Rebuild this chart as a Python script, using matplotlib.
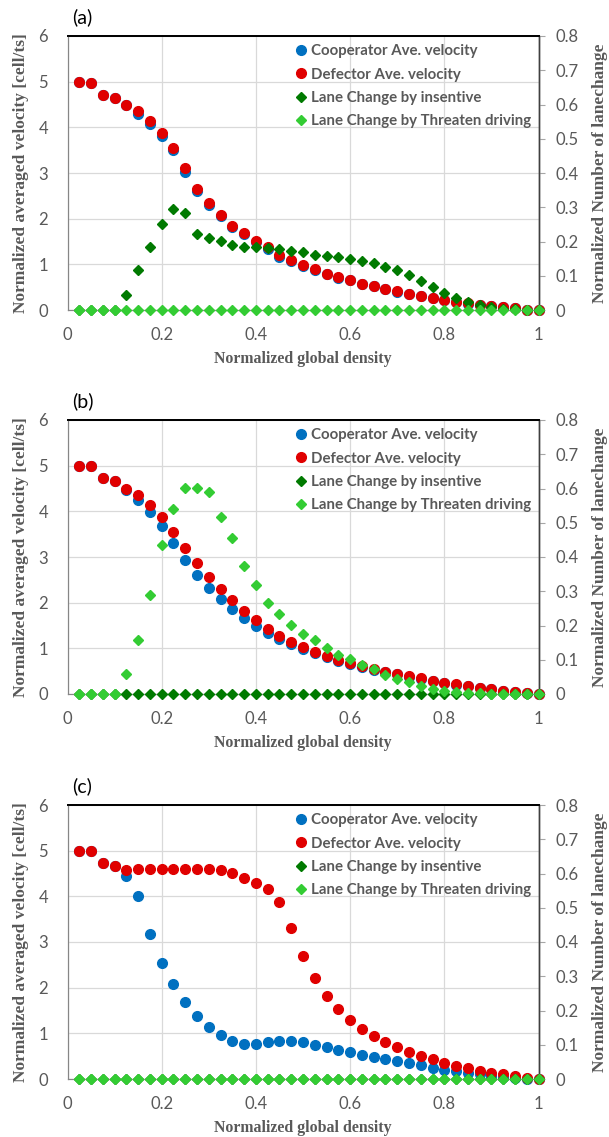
import matplotlib
matplotlib.use('Agg')
import matplotlib.pyplot as plt
from matplotlib.ticker import FixedLocator, FuncFormatter

# normalized global density (x values shared by all panels)
density = [0.025, 0.05, 0.075, 0.1, 0.125, 0.15, 0.175, 0.2, 0.225, 0.25,
           0.275, 0.3, 0.325, 0.35, 0.375, 0.4, 0.425, 0.45, 0.475, 0.5,
           0.525, 0.55, 0.575, 0.6, 0.625, 0.65, 0.675, 0.7, 0.725, 0.75,
           0.775, 0.8, 0.825, 0.85, 0.875, 0.9, 0.925, 0.95, 0.975, 1.0]

# panel (a)
coop_a = [5.00, 4.98, 4.70, 4.64, 4.48, 4.30, 4.08, 3.81, 3.50, 3.02,
          2.60, 2.30, 2.05, 1.82, 1.66, 1.50, 1.34, 1.17, 1.08, 0.97,
          0.88, 0.78, 0.71, 0.65, 0.57, 0.52, 0.46, 0.40, 0.35, 0.31,
          0.26, 0.21, 0.17, 0.14, 0.11, 0.08, 0.06, 0.04, 0.01, 0.00]
def_a = [5.00, 4.98, 4.70, 4.64, 4.50, 4.35, 4.14, 3.88, 3.55, 3.12,
         2.65, 2.34, 2.08, 1.85, 1.68, 1.51, 1.37, 1.20, 1.09, 0.98,
         0.89, 0.79, 0.72, 0.66, 0.58, 0.52, 0.47, 0.41, 0.36, 0.31,
         0.27, 0.22, 0.17, 0.15, 0.12, 0.09, 0.06, 0.04, 0.01, 0.00]
ins_a = [0, 0, 0, 0, 0.044, 0.116, 0.183, 0.250, 0.295, 0.284,
         0.223, 0.209, 0.202, 0.189, 0.184, 0.184, 0.180, 0.177, 0.171, 0.169,
         0.161, 0.159, 0.154, 0.149, 0.142, 0.136, 0.125, 0.116, 0.101, 0.085,
         0.067, 0.049, 0.034, 0.023, 0.015, 0.008, 0.004, 0.002, 0, 0]
thr_a = [0.0] * 40

# panel (b)
coop_b = [5.00, 4.99, 4.72, 4.66, 4.46, 4.25, 3.99, 3.67, 3.30, 2.94,
          2.61, 2.33, 2.08, 1.86, 1.67, 1.50, 1.34, 1.20, 1.09, 0.98,
          0.89, 0.80, 0.72, 0.65, 0.59, 0.53, 0.48, 0.43, 0.38, 0.33,
          0.28, 0.24, 0.20, 0.17, 0.13, 0.10, 0.07, 0.04, 0.02, 0.00]
def_b = [5.00, 4.99, 4.72, 4.66, 4.50, 4.36, 4.14, 3.87, 3.55, 3.20,
         2.87, 2.57, 2.30, 2.05, 1.81, 1.61, 1.43, 1.27, 1.14, 1.03,
         0.92, 0.83, 0.75, 0.68, 0.61, 0.55, 0.49, 0.44, 0.39, 0.34,
         0.29, 0.25, 0.21, 0.18, 0.14, 0.10, 0.07, 0.05, 0.03, 0.00]
ins_b = [0.0] * 40
thr_b = [0, 0, 0, 0, 0.058, 0.158, 0.288, 0.434, 0.541, 0.602,
         0.602, 0.589, 0.518, 0.456, 0.374, 0.319, 0.267, 0.233, 0.201, 0.176,
         0.157, 0.134, 0.114, 0.101, 0.084, 0.074, 0.055, 0.045, 0.034, 0.023,
         0.016, 0.010, 0.006, 0.004, 0.002, 0, 0, 0, 0, 0]

# panel (c)
coop_c = [5.00, 5.00, 4.72, 4.66, 4.45, 4.00, 3.17, 2.54, 2.08, 1.68,
          1.38, 1.14, 0.96, 0.83, 0.77, 0.77, 0.80, 0.83, 0.83, 0.80,
          0.75, 0.70, 0.64, 0.59, 0.53, 0.48, 0.44, 0.39, 0.35, 0.30,
          0.25, 0.20, 0.18, 0.13, 0.10, 0.07, 0.04, 0.03, 0.01, 0.00]
def_c = [5.00, 5.00, 4.72, 4.66, 4.58, 4.60, 4.60, 4.60, 4.60, 4.60,
         4.59, 4.59, 4.57, 4.51, 4.41, 4.29, 4.16, 3.87, 3.30, 2.70,
         2.21, 1.82, 1.53, 1.30, 1.10, 0.94, 0.80, 0.69, 0.59, 0.50,
         0.43, 0.35, 0.28, 0.23, 0.17, 0.13, 0.10, 0.07, 0.03, 0.00]
ins_c = [0.0] * 40
thr_c = [0.0] * 40

labels = ['Cooperator Ave. velocity', 'Defector Ave. velocity',
          'Lane Change by insentive', 'Lane Change by Threaten driving']
x_ticks = [0, 0.2, 0.4, 0.6, 0.8, 1]
v_ticks = [0, 1, 2, 3, 4, 5, 6]
lc_ticks = [0, 0.1, 0.2, 0.3, 0.4, 0.5, 0.6, 0.7, 0.8]

GRAY = '#595959'
C_COOP = '#0070C0'
C_DEF = '#E00000'
C_INS = '#007A00'
C_THR = '#33CC33'
TICK_FONT = 'Lato'
LBL_FONT = 'Liberation Serif'


def fmt_num(v, pos):
    if abs(v) < 1e-9:
        return '0'
    if abs(v - round(v)) < 1e-9:
        return '{:d}'.format(int(round(v)))
    return '{:.1f}'.format(v)


def draw_panel(fig, rect, tag, coop, defe, ins, thr):
    ax = fig.add_axes(rect)
    ax2 = ax.twinx()

    h1, = ax.plot(density, coop, 'o', color=C_COOP, ms=7, clip_on=False, zorder=3)
    h2, = ax.plot(density, defe, 'o', color=C_DEF, ms=7, clip_on=False, zorder=4)
    h3, = ax2.plot(density, ins, 'D', color=C_INS, ms=4.6, clip_on=False, zorder=3)
    h4, = ax2.plot(density, thr, 'D', color=C_THR, ms=4.6, clip_on=False, zorder=4)

    ax.set_xlim(0, 1)
    ax.set_ylim(0, 6)
    ax2.set_ylim(0, 0.8)
    ax.xaxis.set_major_locator(FixedLocator(x_ticks))
    ax.yaxis.set_major_locator(FixedLocator(v_ticks))
    ax2.yaxis.set_major_locator(FixedLocator(lc_ticks))
    ax.xaxis.set_major_formatter(FuncFormatter(fmt_num))
    ax.yaxis.set_major_formatter(FuncFormatter(fmt_num))
    ax2.yaxis.set_major_formatter(FuncFormatter(fmt_num))

    ax.grid(True, color='#D9D9D9', lw=0.9)
    ax.set_axisbelow(True)

    ax.tick_params(axis='both', length=0, pad=14, labelsize=12, labelcolor=GRAY)
    ax.tick_params(axis='x', pad=12)
    ax2.tick_params(axis='y', length=4, width=0.8, color='#A6A6A6', pad=8,
                    labelsize=12, labelcolor=GRAY)
    for a in (ax, ax2):
        for t in a.get_xticklabels() + a.get_yticklabels():
            t.set_fontfamily(TICK_FONT)

    for a in (ax, ax2):
        a.spines['left'].set_color('#868686')
        a.spines['bottom'].set_color('#868686')
        a.spines['top'].set_color('black')
        a.spines['top'].set_linewidth(1.3)
        a.spines['right'].set_color('#404040')
        a.spines['right'].set_linewidth(1.0)

    ax.set_xlabel('Normalized global density', family=LBL_FONT, weight='bold',
                  fontsize=11.4, color=GRAY, labelpad=6)
    ax.set_ylabel('Normalized averaged velocity [cell/ts]', family=LBL_FONT,
                  weight='bold', fontsize=12.5, color=GRAY, labelpad=7)
    ax2.set_ylabel('Normalized Number of lanechange', family=LBL_FONT,
                   weight='bold', fontsize=12.5, color=GRAY, labelpad=10)

    ax.text(0.01, 1.035, tag, transform=ax.transAxes, family=TICK_FONT,
            fontsize=14, color='black', ha='left', va='bottom')

    leg = ax2.legend([h1, h2, h3, h4], labels, loc='upper left',
                     bbox_to_anchor=(0.485, 0.97), frameon=False,
                     prop={'family': TICK_FONT, 'weight': 'bold', 'size': 10.8},
                     labelcolor=GRAY, handlelength=0.7, handletextpad=0.3,
                     labelspacing=0.62, borderpad=0, borderaxespad=0)
    leg.set_zorder(10)
    return ax


fig = plt.figure(figsize=(6.09, 11.37), dpi=100)

left = 67.5 / 609
width = (538.5 - 67.5) / 609
panels = [
    ('(a)', 36, 310, coop_a, def_a, ins_a, thr_a),
    ('(b)', 420, 694, coop_b, def_b, ins_b, thr_b),
    ('(c)', 805, 1079, coop_c, def_c, ins_c, thr_c),
]
for tag, top_px, bot_px, c, d, i, t in panels:
    bottom = 1 - bot_px / 1137
    height = (bot_px - top_px) / 1137
    draw_panel(fig, [left, bottom, width, height], tag, c, d, i, t)

fig.savefig('out.png', dpi=100)
